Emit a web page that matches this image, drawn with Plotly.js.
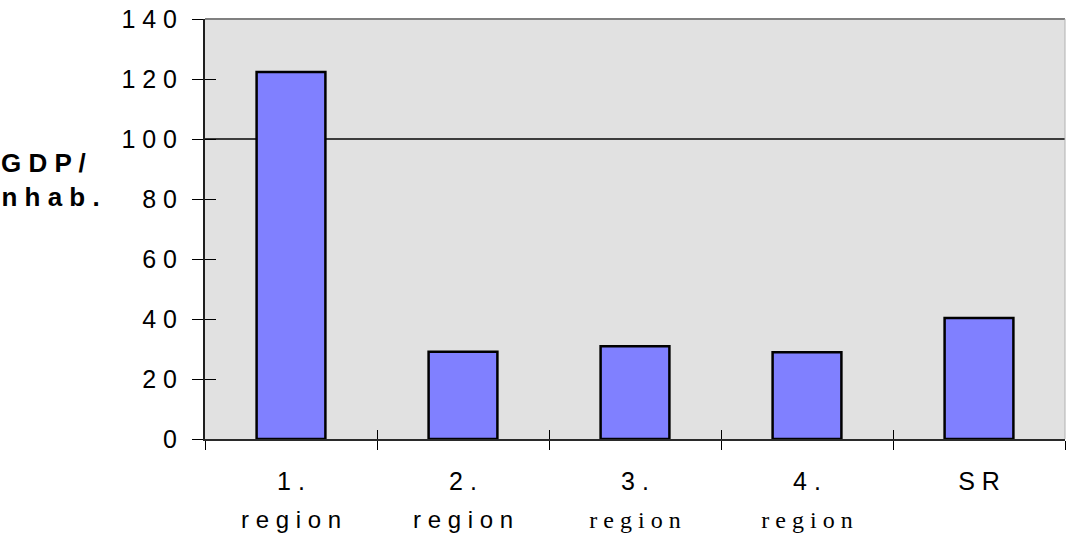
<!DOCTYPE html>
<html><head><meta charset="utf-8">
<script src="https://cdn.plot.ly/plotly-3.0.1.min.js"></script>
<style>html,body{margin:0;padding:0;background:#fff;overflow:hidden}#chart{width:1066px;height:545px}</style>
</head><body><div id="chart"></div>
<script>
// ---- data ----
const categories = ['1. region', '2. region', '3. region', '4. region', 'SR'];
const numberLabels = ['1 .', '2 .', '3 .', '4 .', 'S R'];
const wordLabels = ['r e g i o n', 'r e g i o n', 'r e g i o n', 'r e g i o n', ''];
const wordIsSerif = [false, false, true, true, false];
const gdpPerInhab = [122.3, 29.1, 30.9, 28.9, 40.3];
const yTickValues = [0, 20, 40, 60, 80, 100, 120, 140];
const yTickLabels = ['0', '2 0', '4 0', '6 0', '8 0', '1 0 0', '1 2 0', '1 4 0'];
const yGridValues = [100];
const yTitle = 'G D P /<br>i n h a b .';

// ---- build tick text ----
const SANS = 'Liberation Sans, Arial, sans-serif';
const SERIF = 'Liberation Serif, Times New Roman, serif';
const xTickText = categories.map((c, i) => {
  let s = '<span style="font-size:25px">' + numberLabels[i] + '</span>';
  if (wordLabels[i]) {
    const fam = wordIsSerif[i] ? SERIF : SANS;
    s += '<br><span style="font-size:24px;font-family:' + fam + '">' + wordLabels[i] + '</span>';
  }
  return s;
});

const data = [
  {
    type: 'bar', x: categories, y: gdpPerInhab, width: 0.4,
    marker: {color: '#8080ff', line: {color: '#000000', width: 2.5}},
    hoverinfo: 'x+y', xaxis: 'x', yaxis: 'y'
  },
  {type: 'scatter', x: [], y: [], xaxis: 'x2', yaxis: 'y2', showlegend: false, hoverinfo: 'skip'},
  {type: 'scatter', x: [], y: [], xaxis: 'x2', yaxis: 'y3', showlegend: false, hoverinfo: 'skip'}
];

const layout = {
  width: 1066, height: 545,
  margin: {l: 205, r: 1, t: 19, b: 106, pad: 0},
  paper_bgcolor: '#ffffff', plot_bgcolor: '#e1e1e1',
  showlegend: false,
  font: {family: SANS, color: '#000000'},
  xaxis: {
    type: 'category', tickvals: categories, ticktext: xTickText,
    tickson: 'boundaries', ticks: 'outside', ticklen: 9, tickwidth: 1, tickcolor: '#000',
    showline: true, linecolor: '#2a2a2a', linewidth: 2,
    showgrid: false, zeroline: false,
    tickfont: {family: SANS, size: 29, color: '#000'},
    ticklabelstandoff: 14,
    range: [-0.5, 4.5], fixedrange: true
  },
  xaxis2: {
    overlaying: 'x', range: [-0.5, 4.5], tick0: -0.5, dtick: 1,
    ticks: 'inside', ticklen: 9, tickwidth: 1, tickcolor: '#000',
    showticklabels: false, showgrid: false, zeroline: false, showline: false, fixedrange: true
  },
  yaxis: {
    range: [0, 140], tickvals: yTickValues, ticktext: yTickLabels,
    ticks: 'outside', ticklen: 11, tickwidth: 1, tickcolor: '#000',
    showline: true, linecolor: '#1e1e1e', linewidth: 2,
    showgrid: false, zeroline: false,
    tickfont: {family: SANS, size: 25, color: '#000'},
    ticklabelstandoff: 10, fixedrange: true
  },
  yaxis2: {
    overlaying: 'y', range: [0, 140], tickvals: yTickValues,
    ticks: 'inside', ticklen: 11, tickwidth: 1, tickcolor: '#000',
    showticklabels: false, showgrid: false, zeroline: false, showline: false, fixedrange: true
  },
  yaxis3: {
    overlaying: 'y', range: [0, 140], tickvals: yGridValues,
    ticks: '', showticklabels: false, showgrid: true, gridcolor: '#3c3c3c', gridwidth: 1.5,
    zeroline: false, showline: false, fixedrange: true
  },
  shapes: [
    {type: 'line', xref: 'paper', yref: 'paper', x0: 0, x1: 1, y0: 1, y1: 1,
     line: {color: '#808080', width: 2}, layer: 'above'},
    {type: 'line', xref: 'paper', yref: 'paper', x0: 1, x1: 1, y0: 0, y1: 1,
     line: {color: '#b0b0b0', width: 1}, layer: 'above'}
  ],
  annotations: [
    {text: yTitle, xref: 'paper', yref: 'paper', x: -0.188, y: 0.617,
     xanchor: 'center', yanchor: 'middle', align: 'center', showarrow: false,
     font: {family: SANS, size: 26, color: '#000', weight: 'bold'}}
  ]
};

Plotly.newPlot('chart', data, layout, {displayModeBar: false, staticPlot: true});
</script>
</body></html>
